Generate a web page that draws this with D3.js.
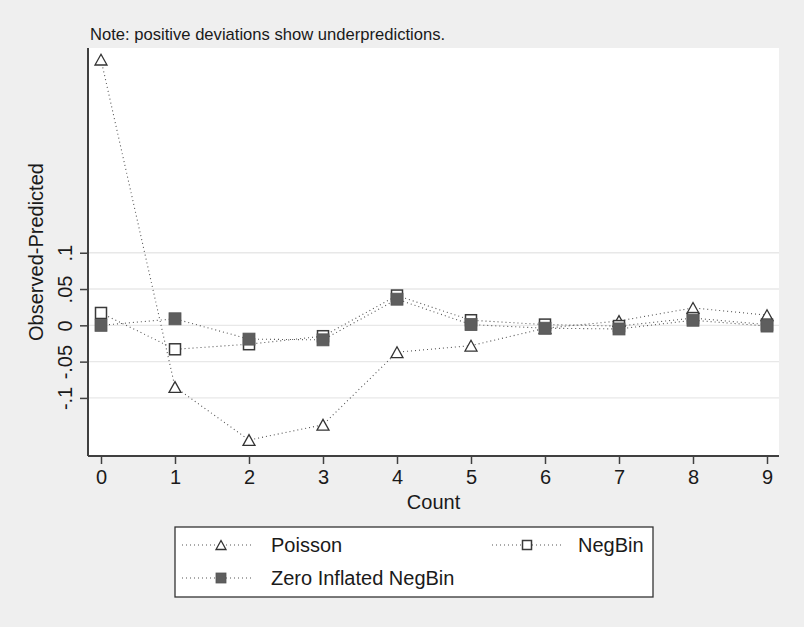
<!DOCTYPE html>
<html><head><meta charset="utf-8">
<script src="https://cdn.jsdelivr.net/npm/d3@7"></script>
<style>
html,body{margin:0;padding:0;background:#efefef;}
svg{display:block;font-family:"Liberation Sans",Arial,sans-serif;}
</style></head>
<body>
<script>
const counts = [0,1,2,3,4,5,6,7,8,9];
const poisson = [0.366,-0.085,-0.158,-0.137,-0.037,-0.028,-0.004,0.006,0.024,0.014];
const negbin  = [0.017,-0.033,-0.026,-0.015,0.041,0.007,0.001,-0.001,0.010,0.001];
const zinb    = [0.000,0.009,-0.019,-0.020,0.036,0.001,-0.004,-0.005,0.007,-0.001];
const yTicks = [-0.1,-0.05,0,0.05,0.1];
const yTickLabels = ["-.1","-.05","0",".05",".1"];
const seriesNames = ["Poisson","NegBin","Zero Inflated NegBin"];
const noteText = "Note: positive deviations show underpredictions.";

const W=804,H=627;
const plot={left:88,right:779,top:48,bottom:456};
const svg=d3.select("body").append("svg").attr("width",W).attr("height",H);
svg.append("rect").attr("width",W).attr("height",H).attr("fill","#efefef");

const x=d3.scaleLinear().domain([0,9]).range([101,767]);
const y=d3.scaleLinear().domain([-0.18,0.382]).range([plot.bottom,plot.top]);

svg.append("rect").attr("x",plot.left).attr("y",plot.top)
  .attr("width",plot.right-plot.left).attr("height",plot.bottom-plot.top).attr("fill","#fff");

// gridlines
svg.append("g").selectAll("line").data(yTicks).join("line")
  .attr("x1",plot.left).attr("x2",plot.right)
  .attr("y1",d=>y(d)).attr("y2",d=>y(d))
  .attr("stroke","#e8e8e8").attr("stroke-width",1.3);

// axes
const xAxis=d3.axisBottom(x).tickValues(counts).tickFormat(d3.format("d")).tickSize(8).tickSizeOuter(0).tickPadding(6);
const gx=svg.append("g").attr("transform",`translate(0,${plot.bottom})`).call(xAxis);
gx.select(".domain").attr("d",`M${plot.left},0H${plot.right}`).attr("stroke","#404040").attr("stroke-width",2);
gx.selectAll(".tick line").attr("stroke","#404040").attr("stroke-width",1.5);
gx.selectAll(".tick text").attr("font-size",20).attr("fill","#1a1a1a").attr("font-family","Liberation Sans, Arial, sans-serif");

const yAxis=d3.axisLeft(y).tickValues(yTicks).tickFormat((d,i)=>yTickLabels[i]).tickSize(8).tickSizeOuter(0);
const gy=svg.append("g").attr("transform",`translate(${plot.left},0)`).call(yAxis);
gy.select(".domain").attr("d",`M0,${plot.top}V${plot.bottom}`).attr("stroke","#404040").attr("stroke-width",2);
gy.selectAll(".tick line").attr("stroke","#404040").attr("stroke-width",1.5);
gy.selectAll(".tick text").attr("font-size",20).attr("fill","#1a1a1a")
  .attr("font-family","Liberation Sans, Arial, sans-serif")
  .attr("text-anchor","middle").attr("dy",0).attr("x",0)
  .attr("transform","translate(-16,0) rotate(-90)");

// titles
svg.append("text").attr("x",(plot.left+plot.right)/2).attr("y",509)
  .attr("text-anchor","middle").attr("font-size",20).attr("fill","#1a1a1a").text("Count");
svg.append("text").attr("transform",`translate(43,${(plot.top+plot.bottom)/2}) rotate(-90)`)
  .attr("text-anchor","middle").attr("font-size",20).attr("fill","#1a1a1a").text("Observed-Predicted");
svg.append("text").attr("x",90).attr("y",40).attr("font-size",16.6).attr("fill","#1a1a1a").text(noteText);

// lines
const line=d3.line().x((d,i)=>x(counts[i])).y(d=>y(d));
const allSeries=[poisson,negbin,zinb];
allSeries.forEach(s=>{
  svg.append("path").attr("d",line(s)).attr("fill","none")
    .attr("stroke","#555").attr("stroke-width",1.1).attr("stroke-dasharray","1,3");
});

function triangle(g,cx,cy,s){
  const h=s*0.9;
  g.append("path").attr("d",`M${cx},${cy-h/2}L${cx+s/2},${cy+h/2}L${cx-s/2},${cy+h/2}Z`)
   .attr("fill","#fff").attr("stroke","#333").attr("stroke-width",1.3);
}
function hsquare(g,cx,cy,s){
  g.append("rect").attr("x",cx-s/2).attr("y",cy-s/2).attr("width",s).attr("height",s)
   .attr("fill","#fff").attr("stroke","#3a3a3a").attr("stroke-width",1.5);
}
function fsquare(g,cx,cy,s){
  g.append("rect").attr("x",cx-s/2).attr("y",cy-s/2).attr("width",s).attr("height",s)
   .attr("fill","#5e5e5e").attr("stroke","#555").attr("stroke-width",0.8);
}
const mg=svg.append("g");
poisson.forEach((v,i)=>triangle(mg,x(counts[i]),y(v),12));
negbin.forEach((v,i)=>hsquare(mg,x(counts[i]),y(v),11));
zinb.forEach((v,i)=>fsquare(mg,x(counts[i]),y(v),12));

// legend
const lg=svg.append("g");
lg.append("rect").attr("x",175).attr("y",527).attr("width",478).attr("height",70)
  .attr("fill","#fff").attr("stroke","#333").attr("stroke-width",1.3);
const legItems=[
  {name:seriesNames[0],lx:182,mx:221,tx:271,y:545,m:"tri"},
  {name:seriesNames[1],lx:492,mx:527,tx:578,y:545,m:"hsq"},
  {name:seriesNames[2],lx:182,mx:221,tx:271,y:578,m:"fsq"}
];
legItems.forEach(it=>{
  lg.append("line").attr("x1",it.lx).attr("x2",it.lx+72).attr("y1",it.y).attr("y2",it.y)
    .attr("stroke","#555").attr("stroke-width",1.1).attr("stroke-dasharray","1,3");
  if(it.m==="tri") triangle(lg,it.mx,it.y,10);
  else if(it.m==="hsq") hsquare(lg,it.mx,it.y,9);
  else fsquare(lg,it.mx,it.y,10);
  lg.append("text").attr("x",it.tx).attr("y",it.y+7).attr("font-size",20).attr("fill","#1a1a1a").text(it.name);
});
</script>
</body></html>
